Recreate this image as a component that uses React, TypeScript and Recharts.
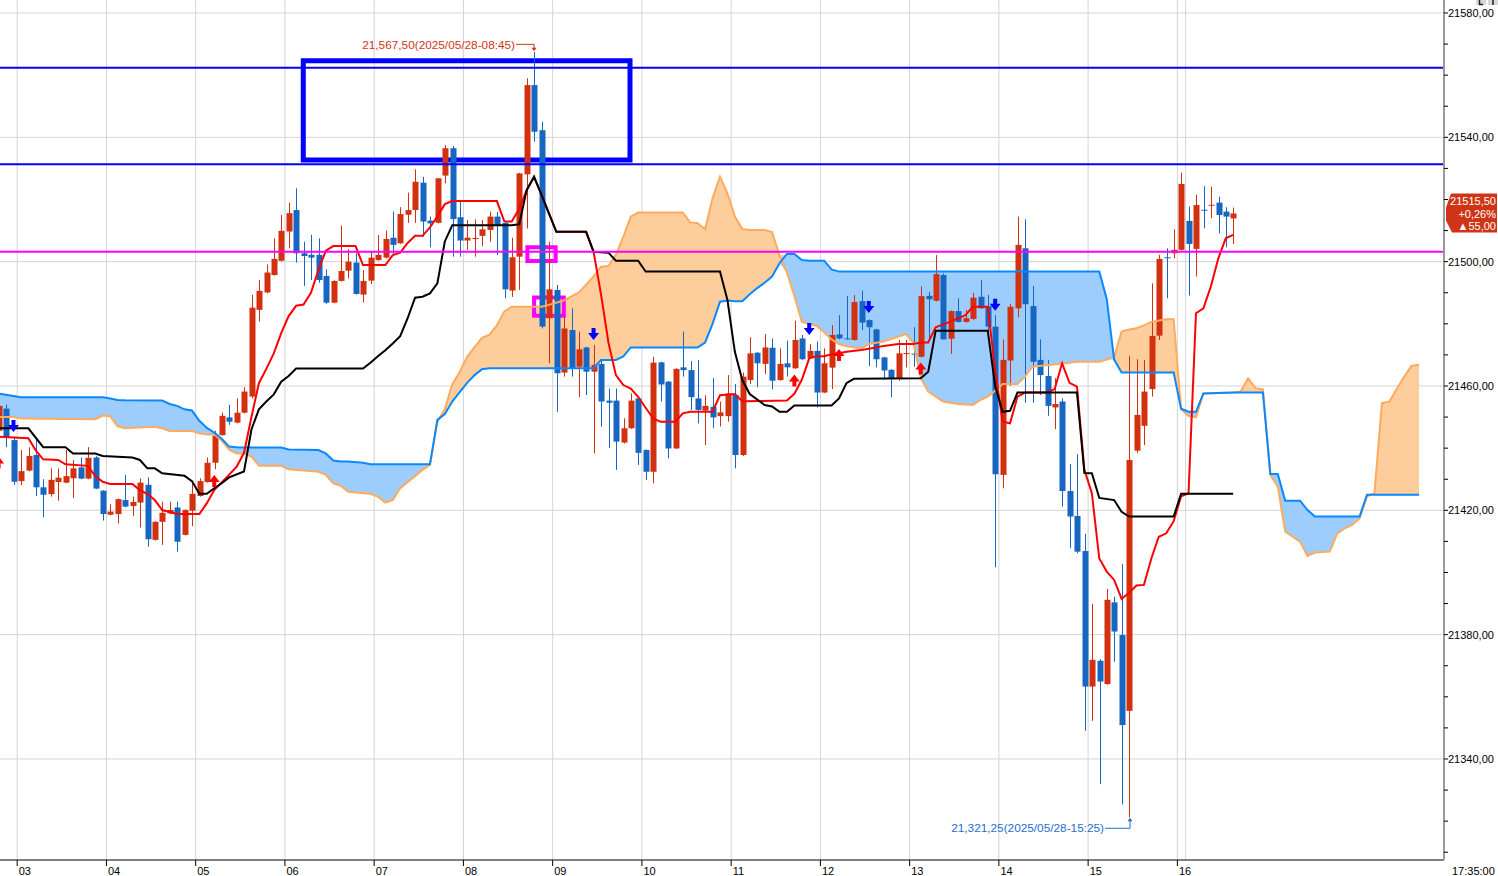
import React from 'react';
import {
  ComposedChart, Bar, Line, Area, Scatter, XAxis, YAxis, CartesianGrid,
  ReferenceLine, ReferenceArea, ReferenceDot,
} from 'recharts';

// ---------- data ----------
// candle index n: 0 = 03:00, one candle = 5 minutes; first visible candle is n = -3 (02:45)
const FIRST_N = -3;

const opens = [
  21445.6, 21452.7, 21442.6, 21429.4, 21432.8, 21437.8, 21427.4, 21425.2, 21429.1, 21428.9,
  21430.3, 21433.8, 21430.2, 21437.0, 21426.3, 21418.6, 21418.8, 21423.3, 21421.4, 21422.5,
  21428.2, 21410.5, 21416.3, 21419.0, 21420.9, 21412.1, 21419.9, 21424.6, 21429.1, 21435.3,
  21444.2, 21449.9, 21448.2, 21451.4, 21456.6, 21484.5, 21490.1, 21495.7, 21500.3, 21509.7,
  21516.6, 21502.7, 21502.2, 21502.2, 21495.4, 21486.8, 21493.8, 21497.1, 21499.7, 21489.4,
  21493.9, 21500.5, 21501.3, 21507.7, 21505.9, 21515.1, 21516.6, 21525.4, 21513.2, 21512.5,
  21527.7, 21536.5, 21514.3, 21506.8, 21507.4, 21508.3, 21510.2, 21514.5, 21512.5, 21490.7,
  21501.6, 21528.1, 21556.8, 21542.3, 21481.8, 21490.9, 21464.3, 21478.0, 21466.2, 21472.4,
  21464.6, 21467.1, 21455.3, 21455.3, 21441.8, 21446.4, 21456.0, 21439.4, 21432.4, 21467.6,
  21461.4, 21439.9, 21466.0, 21465.1, 21456.0, 21452.1, 21453.3, 21450.3, 21450.3, 21457.1,
  21437.8, 21461.9, 21470.7, 21467.1, 21472.3, 21461.9, 21467.3, 21465.7, 21475.3, 21468.9,
  21471.3, 21457.9, 21465.9, 21476.6, 21475.3, 21474.8, 21487.3, 21481.2, 21478.2, 21469.2,
  21465.2, 21462.5, 21470.3, 21470.4, 21469.4, 21489.0, 21487.4, 21495.7, 21475.2, 21484.1,
  21480.6, 21481.6, 21488.7, 21485.7, 21479.1, 21431.4, 21468.2, 21485.0, 21504.3, 21485.7,
  21468.4, 21463.2, 21453.1, 21455.0, 21426.2, 21418.2, 21406.9, 21363.3, 21371.6, 21364.1,
  21390.4, 21379.9, 21355.5, 21439.2, 21447.2, 21459.0, 21476.2, 21501.4, 21502.7, 21503.8,
  21513.1, 21504.1, 21516.7, 21518.0, 21519.0, 21516.1, 21513.9,
];
const highs = [
  21455.0, 21454.0, 21443.5, 21439.4, 21440.3, 21442.6, 21430.0, 21433.5, 21433.5, 21439.4,
  21436.2, 21437.0, 21440.3, 21437.4, 21426.5, 21422.0, 21423.8, 21431.4, 21424.4, 21430.3,
  21430.6, 21416.5, 21422.8, 21422.8, 21422.8, 21420.3, 21428.7, 21430.3, 21437.0, 21445.6,
  21451.4, 21453.9, 21456.0, 21459.6, 21489.3, 21494.1, 21499.1, 21507.5, 21515.0, 21519.0,
  21523.6, 21506.4, 21508.6, 21507.5, 21497.5, 21494.0, 21511.6, 21504.0, 21502.7, 21497.3,
  21503.2, 21508.6, 21510.0, 21516.1, 21517.5, 21522.2, 21529.7, 21527.3, 21514.5, 21526.9,
  21537.5, 21537.2, 21519.3, 21513.4, 21513.6, 21513.4, 21516.1, 21516.0, 21512.7, 21507.7,
  21528.6, 21559.0, 21567.5, 21545.0, 21506.4, 21492.5, 21482.3, 21485.0, 21477.5, 21472.6,
  21473.2, 21468.6, 21459.2, 21459.2, 21449.6, 21457.6, 21456.2, 21439.6, 21469.4, 21467.8,
  21461.6, 21465.7, 21477.5, 21468.0, 21468.3, 21457.0, 21462.5, 21455.0, 21463.5, 21460.6,
  21464.3, 21475.7, 21470.9, 21476.7, 21475.3, 21472.1, 21474.6, 21481.0, 21476.4, 21473.5,
  21474.3, 21472.1, 21479.6, 21482.8, 21489.0, 21489.3, 21490.7, 21481.4, 21478.4, 21469.4,
  21465.4, 21474.8, 21474.8, 21478.9, 21492.0, 21490.3, 21502.1, 21496.2, 21484.3, 21488.2,
  21484.5, 21490.0, 21494.1, 21489.3, 21482.8, 21475.0, 21486.4, 21514.5, 21513.6, 21492.2,
  21475.0, 21468.4, 21462.5, 21456.0, 21434.9, 21438.1, 21412.4, 21389.9, 21372.1, 21394.7,
  21392.2, 21402.7, 21469.7, 21468.6, 21468.4, 21493.0, 21502.2, 21504.3, 21510.4, 21528.6,
  21517.7, 21521.5, 21524.3, 21524.1, 21520.9, 21517.5, 21517.4,
];
const lows = [
  21444.0, 21440.3, 21428.2, 21428.1, 21432.5, 21424.6, 21417.8, 21424.4, 21423.1, 21428.7,
  21423.9, 21430.0, 21430.0, 21426.8, 21416.7, 21418.4, 21415.8, 21421.0, 21418.2, 21414.5,
  21408.3, 21410.3, 21408.9, 21418.8, 21406.7, 21411.9, 21414.9, 21424.4, 21428.9, 21433.2,
  21444.0, 21447.5, 21448.0, 21451.2, 21456.0, 21480.7, 21489.8, 21495.5, 21500.0, 21504.3,
  21499.7, 21492.2, 21494.1, 21493.2, 21486.4, 21486.6, 21493.6, 21494.6, 21489.4, 21486.8,
  21492.8, 21500.3, 21501.0, 21502.5, 21505.7, 21512.5, 21512.5, 21508.0, 21504.6, 21512.3,
  21525.2, 21501.6, 21501.6, 21503.8, 21501.6, 21505.0, 21506.4, 21502.1, 21488.2, 21488.7,
  21490.9, 21510.7, 21538.6, 21478.5, 21467.3, 21451.7, 21463.0, 21463.0, 21456.4, 21457.1,
  21438.3, 21446.9, 21440.0, 21433.0, 21441.5, 21446.2, 21434.6, 21429.8, 21428.7, 21455.0,
  21436.7, 21439.7, 21463.0, 21452.3, 21448.0, 21441.0, 21446.4, 21447.0, 21448.5, 21433.5,
  21437.5, 21460.6, 21459.6, 21463.9, 21458.9, 21461.7, 21463.0, 21465.5, 21468.4, 21468.7,
  21453.1, 21457.7, 21459.0, 21475.0, 21475.0, 21474.6, 21478.0, 21466.4, 21466.0, 21462.0,
  21456.4, 21461.7, 21466.0, 21466.2, 21469.2, 21474.8, 21487.2, 21475.0, 21470.3, 21480.4,
  21480.4, 21481.2, 21484.8, 21476.4, 21401.7, 21427.1, 21460.0, 21482.1, 21454.6, 21454.6,
  21457.1, 21450.4, 21446.1, 21421.2, 21407.8, 21406.2, 21349.1, 21352.3, 21331.9, 21363.9,
  21371.3, 21325.4, 21321.25, 21438.5, 21441.0, 21456.6, 21474.8, 21488.2, 21501.1, 21503.6,
  21489.1, 21495.2, 21510.7, 21514.0, 21509.1, 21504.6, 21505.7,
];
const closes = [
  21453.6, 21443.4, 21429.2, 21432.6, 21437.5, 21427.4, 21425.0, 21429.8, 21430.5, 21431.0,
  21433.5, 21430.2, 21436.9, 21427.0, 21418.8, 21419.6, 21423.6, 21421.2, 21422.7, 21428.9,
  21410.7, 21416.3, 21419.2, 21420.1, 21409.9, 21420.1, 21425.3, 21429.4, 21435.3, 21444.0,
  21450.4, 21448.5, 21451.4, 21458.2, 21485.2, 21490.6, 21496.5, 21500.9, 21509.9, 21515.6,
  21502.7, 21501.8, 21501.3, 21494.1, 21486.8, 21493.8, 21497.0, 21500.0, 21489.6, 21493.8,
  21501.3, 21502.2, 21507.3, 21505.4, 21515.3, 21516.6, 21525.7, 21512.9, 21512.3, 21526.8,
  21536.5, 21513.7, 21506.8, 21507.7, 21507.6, 21510.4, 21514.5, 21511.8, 21491.1, 21501.4,
  21528.4, 21556.8, 21541.8, 21479.1, 21491.1, 21464.1, 21478.5, 21465.7, 21471.8, 21464.6,
  21466.8, 21455.0, 21454.6, 21442.1, 21446.4, 21455.3, 21438.5, 21432.4, 21467.5, 21460.5,
  21439.9, 21465.5, 21465.1, 21456.4, 21452.3, 21453.6, 21449.9, 21451.5, 21457.6, 21437.8,
  21463.0, 21470.5, 21467.3, 21472.4, 21461.7, 21467.1, 21466.0, 21474.8, 21468.6, 21471.3,
  21457.9, 21467.3, 21476.4, 21475.3, 21475.1, 21487.0, 21480.4, 21478.9, 21468.6, 21465.0,
  21462.5, 21470.5, 21470.6, 21470.3, 21488.9, 21487.9, 21496.0, 21475.0, 21484.1, 21480.6,
  21481.8, 21488.4, 21485.0, 21479.1, 21431.6, 21468.4, 21485.5, 21505.4, 21486.3, 21467.8,
  21463.5, 21453.6, 21454.2, 21426.2, 21418.0, 21406.7, 21363.3, 21371.9, 21364.9, 21391.2,
  21381.0, 21350.9, 21436.2, 21450.7, 21458.2, 21476.1, 21500.9, 21501.1, 21503.8, 21525.0,
  21505.7, 21518.2, 21516.4, 21518.3, 21515.0, 21514.5, 21515.5,
];

// conversion line (red), read at its turning points: [candle n, price]
const tenkanPts: [number, number][] = [
  [-3, 21443.7], [1, 21443.2], [2, 21439.3], [3, 21436.4], [5, 21436.2], [6, 21434.8], [9, 21434.3],
  [10, 21431.0], [11, 21429.2], [12, 21428.5], [15, 21428.5], [16, 21426.5], [17, 21425.3], [18, 21423.3],
  [19, 21420.1], [21, 21418.8], [24, 21418.8], [25, 21422.3], [26, 21426.5], [27, 21429.0], [28, 21431.5],
  [29, 21434.0], [30, 21438.5], [31, 21450.0], [32, 21460.9], [33, 21465.5], [34, 21470.5], [35, 21477.0],
  [36, 21482.5], [37, 21485.8], [38, 21486.2], [39, 21490.0], [40, 21497.3], [41, 21503.5], [42, 21505.0],
  [45, 21505.0], [46, 21498.9], [49, 21498.9], [50, 21502.1], [51, 21502.9], [52, 21506.0], [53, 21508.3],
  [54, 21508.3], [55, 21511.0], [56, 21514.5], [57, 21518.5], [58, 21519.5], [64, 21519.5], [65, 21513.0],
  [66, 21512.9], [67, 21517.0], [68, 21523.0], [69, 21527.3], [70, 21521.5], [71, 21515.5], [72, 21509.6],
  [76, 21509.6], [77, 21503.2], [78, 21489.5], [79, 21474.0], [80, 21463.5], [81, 21460.3], [82, 21459.2],
  [83, 21456.5], [84, 21453.0], [85, 21449.6], [86, 21448.5], [88, 21448.5], [89, 21451.2], [90, 21451.7],
  [93, 21451.7], [94, 21457.0], [96, 21457.4], [97, 21455.1], [103, 21455.3], [104, 21457.5], [105, 21462.0],
  [106, 21468.9], [107, 21469.6], [108, 21469.6], [109, 21470.2], [110, 21470.5], [111, 21471.0], [113, 21471.6],
  [115, 21472.4], [116, 21472.9], [118, 21473.5], [120, 21473.5], [121, 21474.0], [122, 21474.0], [123, 21478.9],
  [125, 21480.7], [127, 21482.8], [128, 21485.5], [130, 21485.5], [131, 21465.0], [132, 21448.5], [133, 21448.0],
  [134, 21456.6], [135, 21457.9], [138, 21457.9], [139, 21459.0], [140, 21467.3], [141, 21461.0], [142, 21459.8],
  [143, 21433.0], [144, 21425.5], [145, 21404.5], [146, 21400.3], [147, 21397.6], [148, 21391.5], [149, 21393.5],
  [150, 21395.8], [151, 21396.0], [152, 21404.5], [153, 21411.5], [154, 21412.6], [155, 21416.5], [156, 21424.5],
  [157, 21425.5], [158, 21483.4], [159, 21485.0], [160, 21492.0], [161, 21501.0], [162, 21507.5], [163, 21508.6],
];

// base line (black)
const kijunPts: [number, number][] = [
  [-3, 21446.4], [1, 21446.4], [3, 21440.3], [6, 21440.3], [7, 21438.3], [10, 21438.3], [11, 21437.5],
  [15, 21437.0], [16, 21436.2], [17, 21433.5], [18, 21433.5], [19, 21431.9], [22, 21431.1], [23, 21429.4],
  [24, 21425.3], [25, 21425.3], [26, 21427.1], [27, 21428.7], [28, 21430.6], [30, 21432.5], [31, 21446.0],
  [32, 21452.5], [33, 21455.0], [34, 21457.3], [35, 21461.4], [36, 21463.2], [37, 21465.6], [46, 21465.6],
  [47, 21467.5], [48, 21469.6], [49, 21471.5], [50, 21473.7], [51, 21476.0], [52, 21481.8], [53, 21488.4],
  [54, 21488.7], [55, 21489.8], [56, 21493.0], [57, 21506.5], [58, 21511.7], [66, 21511.7], [67, 21512.0],
  [68, 21523.0], [69, 21527.3], [70, 21521.5], [71, 21515.5], [72, 21509.6], [76, 21509.6], [77, 21503.2],
  [79, 21502.9], [80, 21500.3], [83, 21500.3], [84, 21496.8], [94, 21496.8], [95, 21487.7], [96, 21471.0],
  [97, 21461.9], [98, 21457.4], [100, 21453.9], [101, 21453.4], [102, 21451.7], [103, 21451.7], [104, 21453.7],
  [109, 21453.7], [110, 21456.0], [111, 21460.9], [112, 21462.3], [121, 21462.5], [122, 21464.6], [123, 21477.8],
  [130, 21477.8], [131, 21460.0], [132, 21451.7], [133, 21452.0], [134, 21457.9], [142, 21457.9], [143, 21432.0],
  [144, 21431.9], [145, 21424.0], [147, 21423.3], [148, 21419.5], [149, 21418.0], [155, 21418.0], [156, 21425.3],
  [163, 21425.3],
];

// cloud: [candle n, leading span A (blue edge), leading span B (orange edge)]
const cloudPts: [number, number, number][] = [
  [-3, 21457.6, 21450.0], [-1, 21456.8, 21450.0], [0, 21456.4, 21449.5], [10, 21456.4, 21449.3],
  [11, 21456.4, 21450.5], [12, 21456.0, 21450.3], [13, 21455.5, 21447.0], [14, 21455.4, 21446.4],
  [18, 21455.3, 21446.9], [19, 21455.3, 21446.4], [20, 21454.2, 21445.5], [21, 21453.6, 21445.5],
  [22, 21452.5, 21445.5], [23, 21452.1, 21445.5], [24, 21448.8, 21444.8], [25, 21446.5, 21444.4],
  [26, 21445.0, 21444.4], [27, 21443.0, 21442.5], [28, 21440.5, 21439.5], [29, 21440.3, 21438.3],
  [30, 21440.2, 21438.3], [31, 21440.2, 21437.3], [32, 21440.2, 21434.3], [35, 21440.2, 21434.3],
  [36, 21439.6, 21433.2], [40, 21439.4, 21432.4], [41, 21438.3, 21431.4], [42, 21436.0, 21428.7],
  [43, 21435.7, 21427.9], [44, 21435.7, 21426.0], [46, 21435.3, 21425.5], [47, 21434.8, 21425.3],
  [48, 21434.8, 21424.4], [49, 21434.8, 21422.5], [50, 21434.8, 21423.3], [51, 21434.8, 21427.1],
  [52, 21434.8, 21429.0], [53, 21434.8, 21431.0], [54, 21434.8, 21433.0], [55, 21434.8, 21434.6],
  [56, 21449.1, 21448.5], [57, 21451.0, 21452.5], [58, 21455.0, 21460.5], [59, 21458.0, 21464.5],
  [60, 21461.0, 21469.4], [61, 21463.5, 21472.5], [62, 21465.4, 21475.5], [63, 21465.7, 21476.5],
  [64, 21465.7, 21479.5], [65, 21465.7, 21484.0], [66, 21465.7, 21485.5], [70, 21465.7, 21485.5],
  [71, 21465.7, 21486.1], [73, 21465.7, 21487.5], [75, 21465.7, 21490.0], [77, 21465.7, 21495.2],
  [78, 21468.4, 21498.4], [79, 21468.4, 21498.6], [80, 21468.4, 21502.2], [81, 21469.5, 21508.0],
  [82, 21472.4, 21514.5], [83, 21472.4, 21515.8], [89, 21472.4, 21515.8], [90, 21472.4, 21512.6],
  [91, 21472.4, 21512.4], [92, 21474.0, 21510.4], [93, 21480.0, 21520.4], [94, 21487.1, 21527.3],
  [95, 21487.5, 21522.0], [96, 21487.3, 21514.5], [97, 21487.3, 21510.5], [98, 21489.5, 21510.2],
  [99, 21491.5, 21510.2], [100, 21493.2, 21510.2], [101, 21495.2, 21509.5], [102, 21499.5, 21502.0],
  [103, 21502.5, 21496.5], [104, 21502.5, 21489.0], [105, 21500.5, 21480.6], [106, 21500.3, 21480.0],
  [107, 21500.3, 21479.3], [108, 21500.3, 21477.3], [109, 21497.5, 21475.0], [110, 21496.8, 21473.5],
  [111, 21496.8, 21472.8], [113, 21496.8, 21472.1], [114, 21496.8, 21473.5], [116, 21496.8, 21474.3],
  [118, 21496.8, 21475.9], [119, 21496.8, 21476.7], [120, 21496.8, 21474.0], [121, 21496.8, 21462.5],
  [122, 21496.8, 21458.2], [124, 21496.8, 21455.0], [126, 21496.8, 21454.2], [128, 21496.8, 21453.9],
  [129, 21496.8, 21455.5], [130, 21496.8, 21456.6], [131, 21496.8, 21458.5], [132, 21496.8, 21460.6],
  [134, 21496.8, 21460.6], [135, 21496.8, 21463.0], [136, 21496.8, 21466.2], [141, 21496.8, 21467.5],
  [142, 21496.8, 21467.8], [145, 21496.8, 21467.8], [146, 21488.0, 21468.5], [147, 21468.5, 21469.4],
  [148, 21464.3, 21477.5], [149, 21464.3, 21478.2], [150, 21464.3, 21478.6], [151, 21464.3, 21479.5],
  [152, 21464.3, 21480.6], [154, 21464.3, 21481.5], [155, 21464.3, 21481.5], [156, 21452.7, 21452.5],
  [157, 21451.7, 21450.3], [158, 21451.7, 21450.0], [159, 21457.6, 21457.6], [163, 21457.9, 21457.9],
  [164, 21457.9, 21458.2], [165, 21457.9, 21462.5], [166, 21457.9, 21459.3], [167, 21457.9, 21458.9],
  [168, 21431.7, 21431.4], [169, 21431.7, 21427.6], [170, 21423.1, 21413.1], [171, 21423.1, 21411.5],
  [172, 21423.1, 21409.9], [173, 21420.1, 21405.3], [174, 21418.0, 21406.4], [176, 21418.0, 21406.7],
  [177, 21418.0, 21412.6], [178, 21418.0, 21414.2], [179, 21418.0, 21415.3], [180, 21418.0, 21417.4],
  [181, 21425.0, 21424.5], [182, 21425.0, 21425.5], [183, 21425.0, 21454.4], [184, 21425.0, 21455.0],
  [185, 21425.0, 21459.0], [186, 21425.0, 21463.0], [187, 21425.0, 21466.5], [188, 21425.0, 21466.8],
];

// signal arrows: [candle n, price level]
const sellSignals: [number, number][] = [[-1, 21447.1], [77, 21476.7], [106, 21478.3], [114, 21485.4], [131, 21486.1]];
const buySignals: [number, number][] = [[-3, 21435.4], [26, 21429.4], [104, 21461.8], [110, 21470.0], [121, 21465.6]];

// horizontal levels and marked zones
const resistanceLevels = [21562.4, 21531.3];
const pivotLevel = 21503.2;
const zoneBox = { x1: 37.97, x2: 81.9, y1: 21532.7, y2: 21564.6 };
const markBoxes = [
  { x1: 68.1, x2: 71.9, y1: 21500.2, y2: 21504.6 },
  { x1: 69.0, x2: 73.0, y1: 21482.6, y2: 21488.5 },
];

// extremes
const highMark = { n: 69, price: 21567.5, text: '21,567,50(2025/05/28-08:45)' };
const lowMark = { n: 149, price: 21321.25, text: '21,321,25(2025/05/28-15:25)' };

// last price tag
const lastPrice = 21515.5;
const tagLines = ['21515,50', '+0,26%', '\u25B255,00'];
const cornerTime = '17:35:00';

// axes
const hourLabels = ['03', '04', '05', '06', '07', '08', '09', '10', '11', '12', '13', '14', '15', '16'];
const sessionBreaks = [156.6];
const priceLabels = [21340, 21380, 21420, 21460, 21500, 21540, 21580];
const priceTicks = [
  21310, 21320, 21330, 21340, 21350, 21360, 21370, 21380, 21390, 21400, 21410, 21420, 21430, 21440,
  21450, 21460, 21470, 21480, 21490, 21500, 21510, 21520, 21530, 21540, 21550, 21560, 21570, 21580,
];

const X_DOMAIN: [number, number] = [-2.81, 191.35];
const Y_DOMAIN: [number, number] = [21307.5, 21584.18];

// ---------- tables ----------
const candleRows = opens.map((o, i) => ({
  n: FIRST_N + i, o, h: highs[i], l: lows[i], c: closes[i], range: [lows[i], highs[i]],
}));
const tenkanRows = tenkanPts.map(([n, v]) => ({ n, v }));
const kijunRows = kijunPts.map(([n, v]) => ({ n, v }));
const cloudRows = cloudPts.map(([n, a, b]) => ({
  n, a, b,
  orange: b > a ? [a, b] : [a, a],
  blue: a > b ? [b, a] : [a, a],
}));
const sellRows = sellSignals.map(([n, p]) => ({ n, p }));
const buyRows = buySignals.map(([n, p]) => ({ n, p }));
const hourTicks = hourLabels.map((_, i) => i * 12 - 0.5);
const gridVerticals = [...hourTicks, ...sessionBreaks];

// ---------- styles ----------
const FONT = 'Liberation Sans, Arial, sans-serif';
const UP = '#d2300e';
const DOWN = '#1766c2';
const TENKAN = '#ff0000';
const KIJUN = '#000000';
const SPAN_A = '#0a88ff';
const SPAN_B = '#ffaa5c';
const FILL_A = '#9dcdfc';
const FILL_B = '#fecd9c';
const GRID = '#d4d4d4';

const fmtPrice = (v: number) => v.toFixed(2).replace('.', ',');

const Candle = (props: any) => {
  const { x, y, width, height, payload } = props;
  if (!payload || height == null) return null;
  const { o, h, l, c } = payload;
  const color = c >= o ? UP : DOWN;
  const span = h - l;
  const ppu = span > 0 ? height / span : 0;
  const top = y + (h - Math.max(o, c)) * ppu;
  const bh = Math.max(1, Math.abs(o - c) * ppu);
  const cx = Math.round(x + width / 2) + 0.5;
  return (
    <g>
      <line x1={cx} x2={cx} y1={y} y2={y + height} stroke={color} strokeWidth={1} />
      <rect x={cx - 3} y={top} width={6} height={bh} fill={color} />
    </g>
  );
};

const SellArrow = (props: any) => {
  const { cx, cy } = props;
  const d = `M${cx - 2},${cy - 6} L${cx + 2},${cy - 6} L${cx + 2},${cy - 1} L${cx + 5.5},${cy - 1} L${cx},${cy + 6} L${cx - 5.5},${cy - 1} L${cx - 2},${cy - 1} Z`;
  return <path d={d} fill="#0000ff" />;
};
const BuyArrow = (props: any) => {
  const { cx, cy } = props;
  const d = `M${cx - 2},${cy + 6} L${cx + 2},${cy + 6} L${cx + 2},${cy + 1} L${cx + 5.5},${cy + 1} L${cx},${cy - 6} L${cx - 5.5},${cy + 1} L${cx - 2},${cy + 1} Z`;
  return <path d={d} fill="#ff0000" />;
};

const HighLabel = (props: any) => {
  const { cx, cy } = props;
  const col = '#d0361a';
  return (
    <g>
      <text x={cx - 19} y={cy - 3} textAnchor="end" fontSize={11.8} fontFamily={FONT} fill={col}>{highMark.text}</text>
      <path d={`M${cx - 18},${cy - 7.5} H${cx} V${cy - 3}`} stroke={col} strokeWidth={1} fill="none" />
      <path d={`M${cx - 2.5},${cy - 4} L${cx + 2.5},${cy - 4} L${cx},${cy - 0.5} Z`} fill={col} />
    </g>
  );
};
const LowLabel = (props: any) => {
  const { cx, cy } = props;
  const col = '#1f6fd0';
  return (
    <g>
      <text x={cx - 25} y={cy + 15} textAnchor="end" fontSize={11.8} fontFamily={FONT} fill={col}>{lowMark.text}</text>
      <path d={`M${cx - 24},${cy + 11} H${cx + 1} V${cy + 3}`} stroke={col} strokeWidth={1} fill="none" />
      <path d={`M${cx - 1.5},${cy + 4} L${cx + 3.5},${cy + 4} L${cx + 1},${cy + 0.5} Z`} fill={col} />
    </g>
  );
};

const PriceTag = (props: any) => {
  const { cx, cy } = props;
  const pts = [
    [cx + 7, cy - 20], [cx + 53, cy - 20], [cx + 53, cy + 19], [cx + 8, cy + 19], [cx + 2, cy + 7], [cx + 2, cy - 6],
  ].map((p) => p.join(',')).join(' ');
  return (
    <g>
      <polygon points={pts} fill="#cf3416" />
      {tagLines.map((t, i) => (
        <text key={i} x={cx + 52} y={cy - 8 + i * 12.3} textAnchor="end" fontSize={11} fontFamily={FONT} fill="#ffffff">{t}</text>
      ))}
    </g>
  );
};

const CornerTime = (props: any) => {
  const { cx, cy } = props;
  return <text x={cx + 8} y={cy + 15} fontSize={11} fontFamily={FONT} fill="#000">{cornerTime}</text>;
};

const CornerButtons = (props: any) => {
  const { cx, cy } = props;
  return (
    <g>
      <rect x={cx + 32} y={cy - 1} width={10} height={6} fill="#d8d8d8" />
      <rect x={cx + 44} y={cy - 1} width={10} height={6} fill="#d8d8d8" />
      <path d={`M${cx + 35.5},${cy} V${cy + 4.5} H${cx + 39}`} stroke="#222" strokeWidth={1.5} fill="none" />
      <path d={`M${cx + 49},${cy} V${cy + 5}`} stroke="#222" strokeWidth={1.5} fill="none" />
    </g>
  );
};

const PriceTick = (props: any) => {
  const { x, y, payload } = props;
  if (!priceLabels.includes(payload.value)) return <g />;
  return (
    <text x={x} y={y} dy={4} fontSize={11} fontFamily={FONT} fill="#000">{fmtPrice(payload.value)}</text>
  );
};

const HourTick = (props: any) => {
  const { x, y, payload } = props;
  const idx = Math.round((payload.value + 0.5) / 12);
  return (
    <text x={x + 1.5} y={y + 9} fontSize={11} fontFamily={FONT} fill="#000">{hourLabels[idx]}</text>
  );
};

export default function App() {
  return (
    <div style={{ position: 'absolute', left: 0, top: 0, width: 1498, height: 876, background: '#fff' }}>
      <ComposedChart width={1498} height={876} data={candleRows} margin={{ top: 0, right: 0, bottom: 0, left: 0 }}>
        <CartesianGrid stroke={GRID} horizontalValues={priceLabels} verticalValues={gridVerticals} />
        <XAxis
          type="number" dataKey="n" domain={X_DOMAIN} allowDataOverflow ticks={hourTicks} interval={0}
          height={16} tickSize={6} tickMargin={0} axisLine={{ stroke: '#000' }} tickLine={{ stroke: '#000' }}
          tick={<HourTick />}
        />
        <YAxis
          orientation="right" type="number" domain={Y_DOMAIN} allowDataOverflow ticks={priceTicks} interval={0}
          width={54} tickSize={4} tickMargin={0} axisLine={{ stroke: '#9a9a9a', strokeWidth: 2 }}
          tickLine={{ stroke: '#000' }} tick={<PriceTick />}
        />
        <Area data={cloudRows} dataKey="orange" type="linear" stroke="none" fill={FILL_B} fillOpacity={1} isAnimationActive={false} dot={false} activeDot={false} />
        <Area data={cloudRows} dataKey="blue" type="linear" stroke="none" fill={FILL_A} fillOpacity={1} isAnimationActive={false} dot={false} activeDot={false} />
        <Line data={cloudRows} dataKey="b" type="linear" stroke={SPAN_B} strokeWidth={2} dot={false} activeDot={false} isAnimationActive={false} />
        <Line data={cloudRows} dataKey="a" type="linear" stroke={SPAN_A} strokeWidth={2} dot={false} activeDot={false} isAnimationActive={false} />
        <Bar dataKey="range" barSize={6} isAnimationActive={false} shape={(p: any) => <Candle {...p} />} />
        <Line data={tenkanRows} dataKey="v" type="linear" stroke={TENKAN} strokeWidth={2} dot={false} activeDot={false} isAnimationActive={false} />
        <Line data={kijunRows} dataKey="v" type="linear" stroke={KIJUN} strokeWidth={2} dot={false} activeDot={false} isAnimationActive={false} />
        {resistanceLevels.map((v) => (
          <ReferenceLine key={v} y={v} stroke="#0000ff" strokeWidth={2} />
        ))}
        <ReferenceLine y={pivotLevel} stroke="#ff00ff" strokeWidth={2} />
        <ReferenceArea x1={zoneBox.x1} x2={zoneBox.x2} y1={zoneBox.y1} y2={zoneBox.y2} stroke="#0000ff" strokeWidth={5} fill="none" fillOpacity={0} />
        {markBoxes.map((b, i) => (
          <ReferenceArea key={i} x1={b.x1} x2={b.x2} y1={b.y1} y2={b.y2} stroke="#ff00ff" strokeWidth={4} fill="none" fillOpacity={0} />
        ))}
        <Scatter data={sellRows} dataKey="p" isAnimationActive={false} shape={(p: any) => <SellArrow {...p} />} />
        <Scatter data={buyRows} dataKey="p" isAnimationActive={false} shape={(p: any) => <BuyArrow {...p} />} />
        <ReferenceDot x={highMark.n} y={highMark.price} r={0} ifOverflow="visible" shape={(p: any) => <HighLabel {...p} />} />
        <ReferenceDot x={lowMark.n} y={lowMark.price} r={0} ifOverflow="visible" shape={(p: any) => <LowLabel {...p} />} />
        <ReferenceDot x={X_DOMAIN[1]} y={lastPrice} r={0} ifOverflow="visible" shape={(p: any) => <PriceTag {...p} />} />
        <ReferenceDot x={X_DOMAIN[1]} y={Y_DOMAIN[0]} r={0} ifOverflow="visible" shape={(p: any) => <CornerTime {...p} />} />
        <ReferenceDot x={X_DOMAIN[1]} y={Y_DOMAIN[1]} r={0} ifOverflow="visible" shape={(p: any) => <CornerButtons {...p} />} />
      </ComposedChart>
    </div>
  );
}
